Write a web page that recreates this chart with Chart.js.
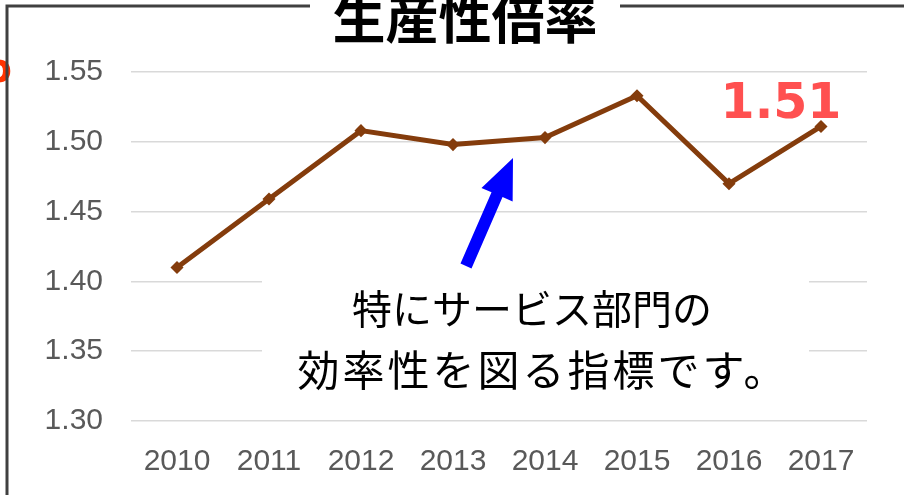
<!DOCTYPE html>
<html>
<head>
<meta charset="utf-8">
<script src="https://cdn.jsdelivr.net/npm/chart.js@4/dist/chart.umd.min.js"></script>
<style>
  html, body { margin: 0; padding: 0; background: #fff; }
  #wrap { width: 904px; height: 495px; position: relative; }
</style>
</head>
<body>
<div id="wrap"><canvas id="chart" width="904" height="495"></canvas></div>
<script>
// data
const years = ['2010', '2011', '2012', '2013', '2014', '2015', '2016', '2017'];
const ratio = [1.410, 1.459, 1.508, 1.498, 1.503, 1.533, 1.470, 1.511];
const yTicks = [1.30, 1.35, 1.40, 1.45, 1.50, 1.55];

const titleText = '生産性倍率';
const lastLabel = '1.51';
const noteLines = ['特にサービス部門の', '効率性を図る指標です。'];

const jpFont = '"Noto Sans CJK JP", "Noto Sans", sans-serif';

// frame, title, note box, arrow and the value label
const decorations = {
    id: 'decorations',
    afterDraw(chart) {
        const ctx = chart.ctx;
        const x = chart.scales.x;
        const y = chart.scales.y;
        ctx.save();

        // cut-off orange glyph at the left edge
        ctx.fillStyle = '#FF3300';
        ctx.font = 'bold 40px "DejaVu Sans", Verdana, sans-serif';
        ctx.textAlign = 'right';
        ctx.textBaseline = 'alphabetic';
        ctx.fillText('o', 12, 82);

        // outer frame (top + left only visible)
        ctx.strokeStyle = '#404040';
        ctx.lineWidth = 3;
        ctx.beginPath();
        ctx.moveTo(7, 495);
        ctx.lineTo(7, 6);
        ctx.lineTo(904, 6);
        ctx.stroke();

        // title on top of the frame line
        ctx.fillStyle = '#fff';
        ctx.fillRect(310, 0, 310, 50);
        ctx.fillStyle = '#000';
        ctx.font = 'bold 53px ' + jpFont;
        ctx.textAlign = 'center';
        ctx.textBaseline = 'alphabetic';
        ctx.fillText(titleText, 465, 39);

        // white box behind the note hides the gridlines
        ctx.fillStyle = '#fff';
        ctx.fillRect(262, 275, 547, 122);
        ctx.fillStyle = '#000';
        ctx.textBaseline = 'middle';
        ctx.font = '40px ' + jpFont;
        ctx.fillText(noteLines[0], 532, 309);
        ctx.font = '42px ' + jpFont;
        ctx.letterSpacing = '3px';
        ctx.fillText(noteLines[1], 543, 370);
        ctx.letterSpacing = '0px';

        // blue arrow pointing at the line between 2013 and 2014
        const tail = { x: 466, y: 266 };
        const tip = { x: 513, y: 158 };
        const dx = tip.x - tail.x, dy = tip.y - tail.y;
        const len = Math.hypot(dx, dy);
        const ux = dx / len, uy = dy / len;
        const nx = -uy, ny = ux;
        const shaft = 6, head = 17, headLen = 40;
        const bx = tip.x - ux * headLen, by = tip.y - uy * headLen;
        ctx.fillStyle = '#0000FF';
        ctx.beginPath();
        ctx.moveTo(tail.x + nx * shaft, tail.y + ny * shaft);
        ctx.lineTo(bx + nx * shaft, by + ny * shaft);
        ctx.lineTo(bx + nx * head, by + ny * head);
        ctx.lineTo(tip.x, tip.y);
        ctx.lineTo(bx - nx * head, by - ny * head);
        ctx.lineTo(bx - nx * shaft, by - ny * shaft);
        ctx.lineTo(tail.x - nx * shaft, tail.y - ny * shaft);
        ctx.closePath();
        ctx.fill();

        // value label above the last point
        const lx = x.getPixelForValue(years.length - 1);
        const ly = y.getPixelForValue(ratio[ratio.length - 1]);
        ctx.fillStyle = '#FF5050';
        ctx.font = 'bold 49px "DejaVu Sans", Verdana, sans-serif';
        ctx.textAlign = 'center';
        ctx.textBaseline = 'alphabetic';
        ctx.fillText(lastLabel, lx - 40, ly - 8);

        ctx.restore();
    }
};

new Chart(document.getElementById('chart'), {
    type: 'line',
    data: {
        labels: years,
        datasets: [{
            data: ratio,
            borderColor: '#843C0C',
            backgroundColor: '#843C0C',
            borderWidth: 5,
            tension: 0,
            pointStyle: 'rectRot',
            pointRadius: 3,
            pointHoverRadius: 3
        }]
    },
    options: {
        responsive: false,
        animation: false,
        devicePixelRatio: 1,
        layout: { padding: { top: 72, right: 37, bottom: 0, left: 0 } },
        plugins: {
            legend: { display: false },
            tooltip: { enabled: false },
            title: { display: false }
        },
        scales: {
            x: {
                offset: true,
                grid: { display: false, drawTicks: false },
                border: { display: false },
                ticks: {
                    color: '#595959',
                    font: { family: '"Liberation Sans", Arial, sans-serif', size: 30 },
                    padding: 23,
                    maxRotation: 0,
                    autoSkip: false
                },
                afterFit(scale) { scale.height = 74; }
            },
            y: {
                min: yTicks[0],
                max: yTicks[yTicks.length - 1],
                afterBuildTicks(scale) {
                    scale.ticks = yTicks.map(v => ({ value: v }));
                },
                grid: { color: '#D9D9D9', lineWidth: 1.5, drawTicks: false },
                border: { display: false },
                ticks: {
                    color: '#595959',
                    font: { family: '"Liberation Sans", Arial, sans-serif', size: 30 },
                    padding: 28,
                    callback: v => Number(v).toFixed(2)
                },
                afterFit(scale) { scale.width = 131; }
            }
        }
    },
    plugins: [decorations]
});
</script>
</body>
</html>
